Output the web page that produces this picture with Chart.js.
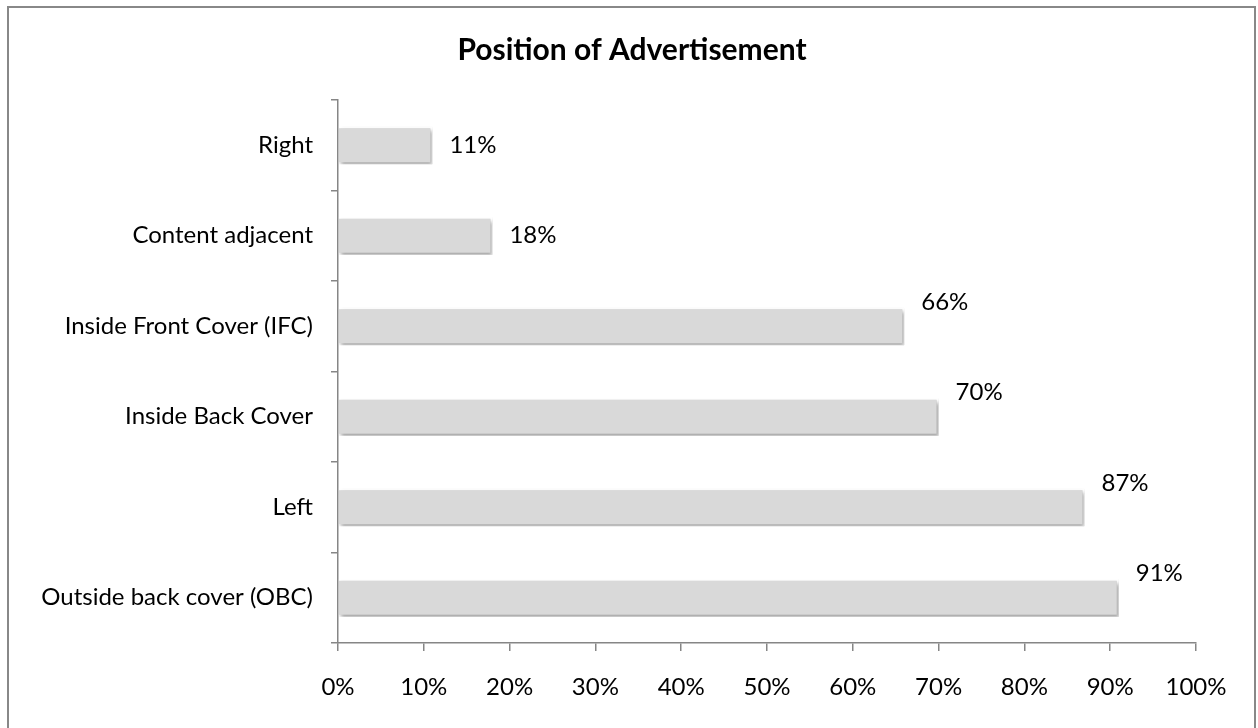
<!DOCTYPE html>
<html>
<head>
<meta charset="utf-8">
<script src="https://cdn.jsdelivr.net/npm/chart.js@4"></script>
<style>
  body { margin: 0; background: #fff; overflow: hidden; }
  #wrap { position: relative; width: 1258px; height: 728px; }
  #frame {
    position: absolute; left: 7px; top: 6px; width: 1245px; height: 740px;
    border: 2px solid #888; pointer-events: none;
  }
</style>
</head>
<body>
<div id="wrap">
  <canvas id="chart" width="1258" height="728"></canvas>
  <div id="frame"></div>
</div>
<script>
const positions = ['Right', 'Content adjacent', 'Inside Front Cover (IFC)', 'Inside Back Cover', 'Left', 'Outside back cover (OBC)']
const shares = [11, 18, 66, 70, 87, 91]
const xTicks = [0, 10, 20, 30, 40, 50, 60, 70, 80, 90, 100]
const chartTitle = 'Position of Advertisement'

const FONT = 'Lato, "Open Sans", sans-serif'

// soft drop shadow behind the bars
const barShadow = {
  id: 'barShadow',
  beforeDatasetsDraw(chart) {
    const ctx = chart.ctx
    ctx.save()
    ctx.shadowColor = 'rgba(0,0,0,0.35)'
    ctx.shadowBlur = 4
    ctx.shadowOffsetX = 2
    ctx.shadowOffsetY = 3
  },
  afterDatasetsDraw(chart) {
    chart.ctx.restore()
  }
}

// percent labels next to each bar, the long ones sit a little higher
const valueLabels = {
  id: 'valueLabels',
  afterDatasetsDraw(chart) {
    const ctx = chart.ctx
    const meta = chart.getDatasetMeta(0)
    ctx.save()
    ctx.font = '24px ' + FONT
    ctx.fillStyle = '#000'
    ctx.textAlign = 'left'
    ctx.textBaseline = 'middle'
    meta.data.forEach((bar, i) => {
      const v = chart.data.datasets[0].data[i]
      const lift = v > 50 ? 24 : 0
      ctx.fillText(v + '%', bar.x + 17, bar.y - lift)
    })
    ctx.restore()
  }
}

// title centred on the page rather than on the plot box
const pageTitle = {
  id: 'pageTitle',
  afterDraw(chart) {
    const ctx = chart.ctx
    ctx.save()
    ctx.font = 'bold 30px ' + FONT
    ctx.fillStyle = '#000'
    ctx.textAlign = 'center'
    ctx.textBaseline = 'middle'
    ctx.fillText(chartTitle, 632, 50)
    ctx.restore()
  }
}

new Chart(document.getElementById('chart'), {
  type: 'bar',
  data: {
    labels: positions,
    datasets: [{
      data: shares,
      backgroundColor: '#d9d9d9',
      borderColor: '#ffffff',
      borderWidth: 2,
      borderSkipped: 'left',
      barPercentage: 0.42,
      categoryPercentage: 1
    }]
  },
  options: {
    responsive: false,
    animation: false,
    indexAxis: 'y',
    layout: { padding: { left: 10, right: 62, top: 100, bottom: 0 } },
    plugins: {
      legend: { display: false },
      tooltip: { enabled: false },
      title: { display: false }
    },
    scales: {
      x: {
        min: 0,
        max: 100,
        afterBuildTicks: s => { s.ticks = xTicks.map(v => ({ value: v })) },
        afterFit: s => { s.height = 85 },
        ticks: {
          callback: v => v + '%',
          color: '#000',
          padding: 22,
          font: { family: FONT, size: 24 }
        },
        grid: { drawOnChartArea: false, color: '#868686', tickLength: 8, lineWidth: 1.5 },
        border: { color: '#868686', width: 1.5 }
      },
      y: {
        afterFit: s => { s.width = 328 },
        ticks: {
          color: '#000',
          padding: 18,
          font: { family: FONT, size: 24 }
        },
        grid: { drawOnChartArea: false, offset: true, color: '#868686', tickLength: 7, lineWidth: 1.5 },
        border: { color: '#868686', width: 1.5 }
      }
    }
  },
  plugins: [barShadow, valueLabels, pageTitle]
})
</script>
</body>
</html>
